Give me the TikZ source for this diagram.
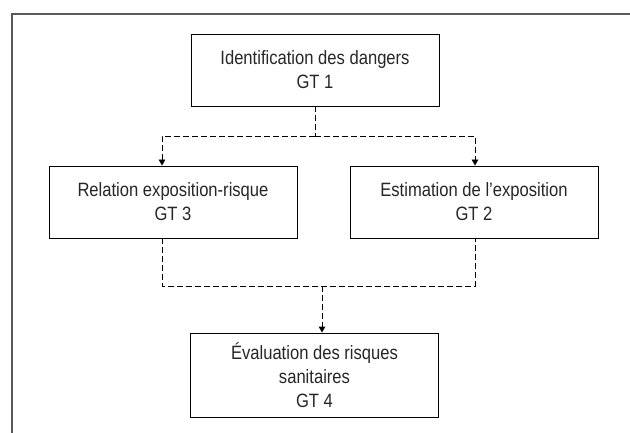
\documentclass[tikz,border=0pt]{standalone}
\usepackage{fontspec}
\setmainfont{Liberation Sans}[FakeStretch=0.86]
\usepackage{tikz}
\usetikzlibrary{arrows.meta}

\begin{document}
\begin{tikzpicture}[x=1pt, y=-1pt,
		box/.style = {draw, line width=0.9pt, minimum width=248pt, minimum height=72pt, align=center, inner sep=2pt, text=black!85, font=\fontsize{19.3}{24}\selectfont},
		dline/.style = {dash pattern=on 6pt off 3pt, line width=0.9pt},
		tip/.style = {-{Triangle[length=6pt, width=6.5pt]}}]
			\useasboundingbox (0,0) rectangle (630,433);
			\draw[black!65, line width=1.6pt] (12,433) -- (12,14) -- (630,14);
			\node[box] (dangers) at (315,70) {Identification des dangers\\GT 1};
			\node[box] (relation) at (173,202) {Relation exposition-risque\\GT 3};
			\node[box] (estimation) at (474,202) {Estimation de l’exposition\\GT 2};
			\node[box, minimum height=84pt] (evaluation) at (314.5,375) {Évaluation des risques\\sanitaires\\GT 4};
			\coordinate (split) at (315,136);
			\coordinate (left) at (162,136);
			\coordinate (right) at (475,136);
			\coordinate (joinl) at (162,286);
			\coordinate (joinr) at (475,286);
			\coordinate (join) at (322,286);
			\draw[dline] (dangers.south) -- (split);
			\draw[dline, tip] (split) -- (left) -- (left |- relation.north);
			\draw[dline, tip] (split) -- (right) -- (right |- estimation.north);
			\draw[dline] (joinl |- relation.south) -- (joinl) -- (joinr) -- (joinr |- estimation.south);
			\draw[dline, tip] (join) -- (join |- evaluation.north);
		\end{tikzpicture}
\end{document}
